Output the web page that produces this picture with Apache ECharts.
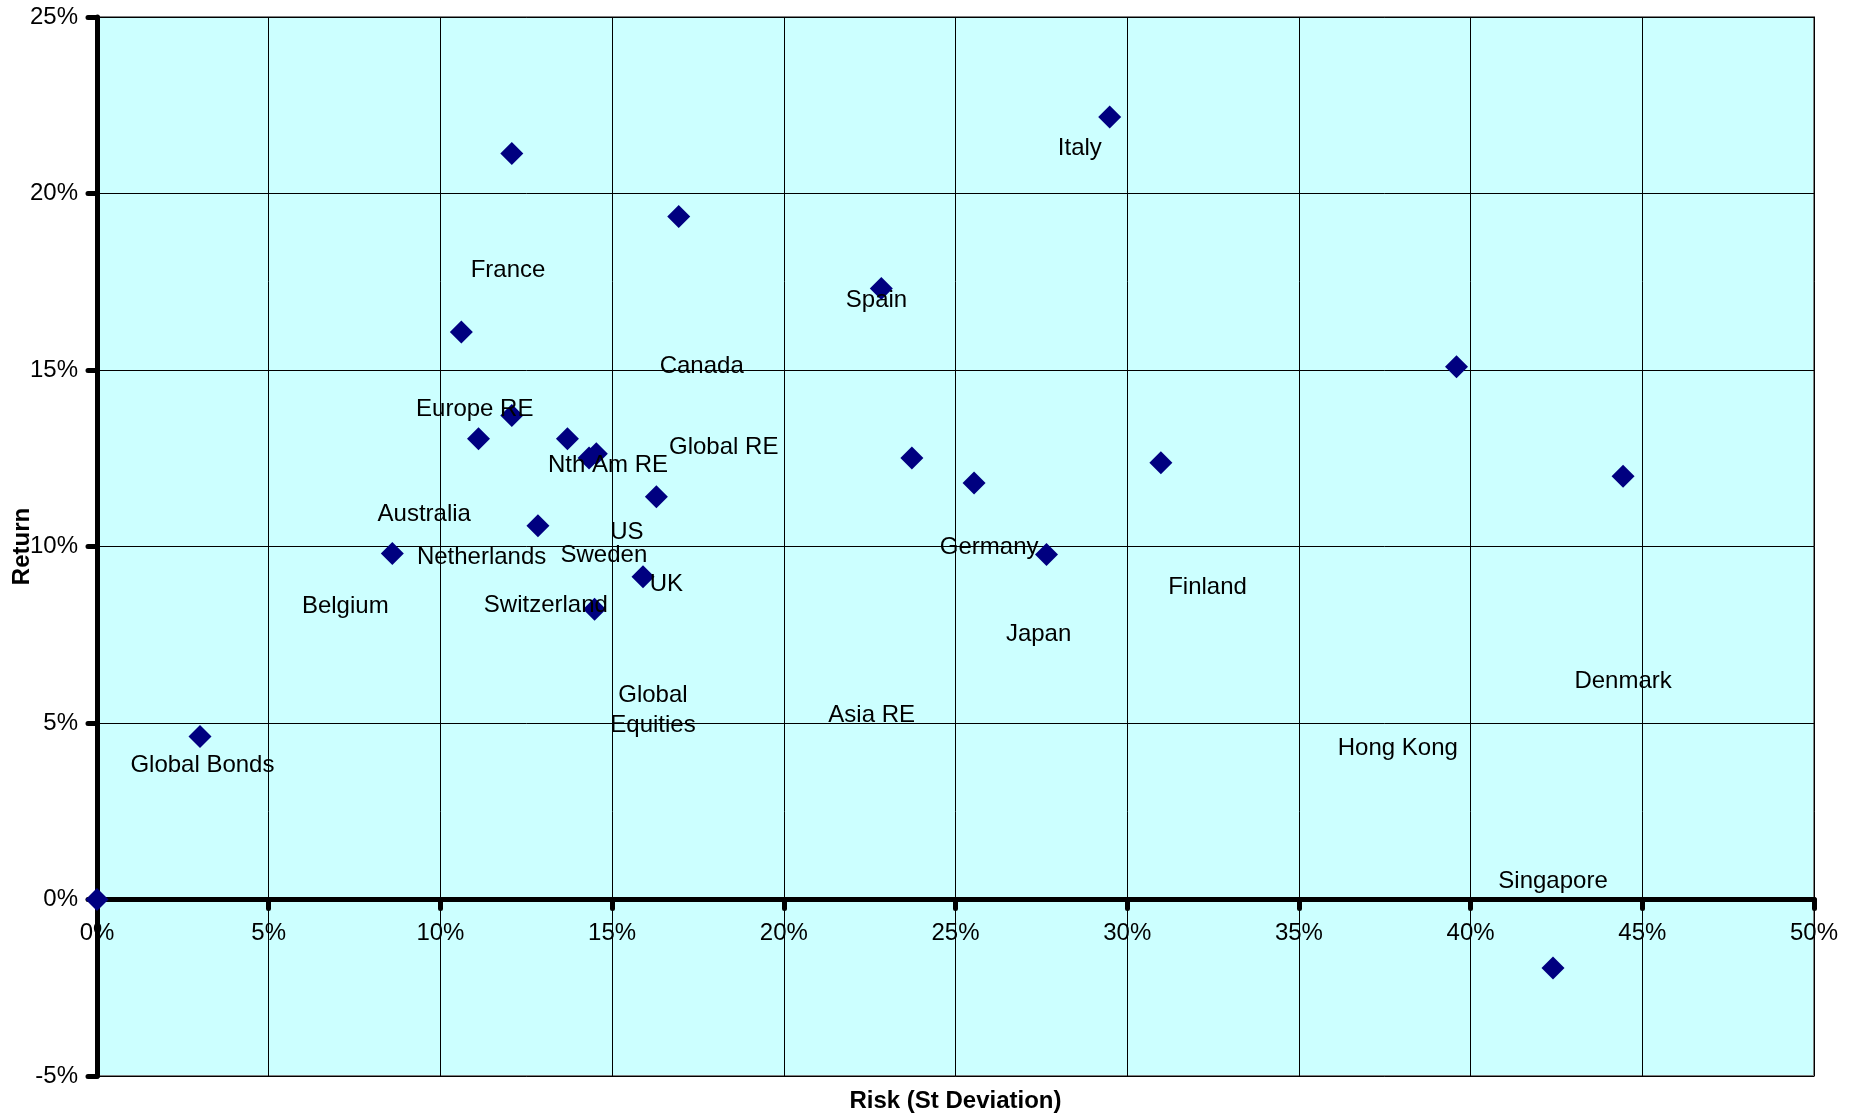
<!DOCTYPE html>
<html>
<head>
<meta charset="utf-8">
<script src="https://cdn.jsdelivr.net/npm/echarts@6/dist/echarts.min.js"></script>
<style>
  html, body { margin: 0; padding: 0; background: #ffffff; }
  #chart { width: 1860px; height: 1116px; }
</style>
</head>
<body>
<div id="chart"></div>
<script>
// Points: risk (st deviation, %) and return (%)
const riskValues   = [0, 3.0, 8.6, 10.61, 11.11, 12.08, 12.08, 12.84, 13.70, 14.33, 14.54, 14.49, 15.90, 16.29, 16.94, 22.84, 23.73, 25.54, 27.65, 29.49, 30.98, 39.59, 42.4, 44.44];
const returnValues = [0, 4.62, 9.80, 16.08, 13.05, 21.13, 13.71, 10.59, 13.05, 12.51, 12.63, 8.22, 9.14, 11.41, 19.35, 17.31, 12.51, 11.80, 9.77, 22.17, 12.37, 15.09, -1.94, 11.99];

// Text labels placed in the chart (positions in data units)
const labelNames  = ['France', 'Italy', 'Spain', 'Canada', 'Europe RE', 'Global RE', 'Nth Am RE', 'Australia', 'US', 'Netherlands', 'Sweden', 'Germany', 'UK', 'Finland', 'Belgium', 'Switzerland', 'Japan', 'Global\nEquities', 'Asia RE', 'Denmark', 'Hong Kong', 'Global Bonds', 'Singapore'];
const labelRisk   = [11.97, 28.62, 22.70, 17.61, 11.0, 18.25, 14.88, 9.53, 15.43, 11.20, 14.76, 25.98, 16.58, 32.34, 7.23, 13.07, 27.42, 16.19, 22.56, 44.44, 37.88, 3.07, 42.4];
const labelReturn = [17.82, 21.27, 16.98, 15.11, 13.88, 12.81, 12.30, 10.91, 10.41, 9.70, 9.75, 9.98, 8.94, 8.85, 8.31, 8.34, 7.51, 5.36, 5.22, 6.18, 4.28, 3.80, 0.52];

// Axis ticks
const xTicks = { min: 0, max: 50, step: 5 };
const yTicks = { min: -5, max: 25, step: 5 };

const FONT = 'Liberation Sans, Arial, sans-serif';

const GRID = { left: 97, right: 46, top: 17, bottom: 40 };
const gridHeight = 1116 - GRID.top - GRID.bottom;
// move the x axis (line, ticks, labels) up to the zero line of the y axis
const xAxisOffset = -gridHeight * (0 - yTicks.min) / (yTicks.max - yTicks.min);

const pointData = riskValues.map((r, i) => [r, returnValues[i]]);
const labelData = labelNames.map((n, i) => ({ name: n, value: [labelRisk[i], labelReturn[i]] }));

const chart = echarts.init(document.getElementById('chart'), null, { renderer: 'canvas' });
chart.setOption({
  backgroundColor: '#ffffff',
  animation: false,
  grid: {
    left: GRID.left, right: GRID.right, top: GRID.top, bottom: GRID.bottom,
    outerBoundsMode: 'none',
    containLabel: false,
    show: true,
    backgroundColor: '#CCFFFF',
    borderColor: '#808080',
    borderWidth: 2
  },
  xAxis: {
    type: 'value',
    position: 'bottom',
    offset: xAxisOffset,
    min: xTicks.min, max: xTicks.max, interval: xTicks.step,
    name: 'Risk (St Deviation)',
    nameLocation: 'middle',
    nameGap: 190,
    nameMoveOverlap: false,
    nameTextStyle: { fontFamily: FONT, fontSize: 24, fontWeight: 'bold', color: '#000' },
    axisLine: { onZero: false, lineStyle: { color: '#000', width: 5 } },
    axisTick: { show: true, length: 9, lineStyle: { color: '#000', width: 5, cap: 'round' } },
    axisLabel: { formatter: '{value}%', margin: 22, fontFamily: FONT, fontSize: 24, color: '#000' },
    splitLine: { show: true, lineStyle: { color: '#000', width: 1 } }
  },
  yAxis: {
    type: 'value',
    min: yTicks.min, max: yTicks.max, interval: yTicks.step,
    name: 'Return',
    nameLocation: 'middle',
    nameGap: 63,
    nameMoveOverlap: false,
    nameTextStyle: { fontFamily: FONT, fontSize: 24, fontWeight: 'bold', color: '#000' },
    axisLine: { onZero: true, lineStyle: { color: '#000', width: 5 } },
    axisTick: { show: true, length: 9, lineStyle: { color: '#000', width: 5, cap: 'round' } },
    axisLabel: { formatter: '{value}%', margin: 19, fontFamily: FONT, fontSize: 24, color: '#000' },
    splitLine: { show: true, lineStyle: { color: '#000', width: 1 } }
  },
  series: [
    {
      type: 'scatter',
      data: pointData,
      symbol: 'diamond',
      symbolSize: 23,
      itemStyle: { color: '#000080', opacity: 1 },
      z: 3
    },
    {
      type: 'scatter',
      data: labelData,
      symbolSize: 0,
      silent: true,
      z: 4,
      itemStyle: { opacity: 1 },
      label: {
        show: true,
        position: 'inside',
        formatter: p => p.name,
        fontFamily: FONT,
        fontSize: 24,
        lineHeight: 30,
        color: '#000',
        opacity: 1,
        align: 'center',
        verticalAlign: 'middle'
      }
    }
  ]
});
</script>
</body>
</html>
